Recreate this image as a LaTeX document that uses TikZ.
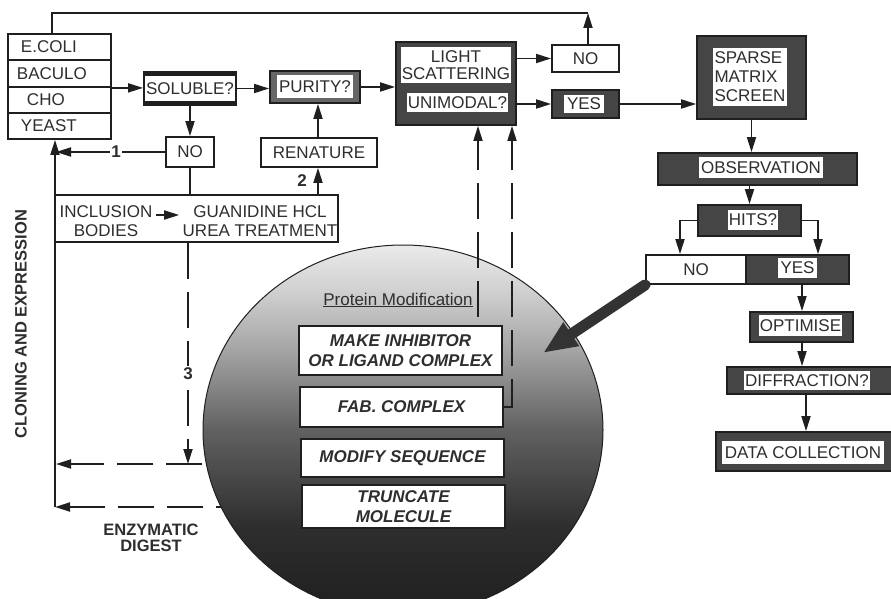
\documentclass[tikz,border=0pt]{standalone}
\usepackage{fontspec}
\setmainfont{Liberation Sans}
\usetikzlibrary{arrows.meta,shapes.geometric}
\definecolor{lc}{gray}{0.12}
\definecolor{tc}{gray}{0.18}
\definecolor{dk}{gray}{0.27}
\definecolor{md}{gray}{0.40}
\newcommand\tf{\fontsize{17}{19}\selectfont}
\newcommand\bx[7]{\node[#6, minimum width={(#4)-(#2)}, minimum height={(#5)-(#3)}] (#1) at ({((#2)+(#4))/2},{((#3)+(#5))/2}) {#7};}
\pgfdeclareverticalshading{circsh}{100bp}{color(0bp)=(black!88); color(25bp)=(black!88); color(37bp)=(black!82); color(50bp)=(black!62); color(61bp)=(black!35); color(69bp)=(black!18); color(75bp)=(black!8); color(100bp)=(black!8)}
\pgfdeclarelayer{back}
\pgfdeclarelayer{mid}
\pgfsetlayers{back,mid,main}
\begin{document}
\begin{tikzpicture}[x=1pt,y=-1pt,
 ln/.style={draw=lc,line width=1.8pt},
 arr/.style={ln,-{Triangle[length=15pt,width=9pt]}},
 dsh/.style={arr,dash pattern=on 36pt off 13pt},
 wb/.style={draw=lc,line width=1.8pt,fill=white,inner sep=0pt,text=tc,font=\tf},
 db/.style={draw=lc,line width=1.8pt,fill=dk,inner sep=0pt},
 wi/.style={fill=white,inner ysep=0pt,inner xsep=1pt,text=tc,font=\tf},
 pm/.style={draw=lc,line width=1.3pt,fill=white,inner sep=0pt,text=tc,font=\fontsize{17}{20}\selectfont\bfseries\itshape,align=center},
 num/.style={text=tc,font=\tf\bfseries,fill=white,inner sep=1.5pt},
 lbl/.style={text=tc,font=\fontsize{16.5}{16}\selectfont\bfseries,align=center},
 stk/.style={wb,text width=103pt,align=left}
]
\useasboundingbox (0,0) rectangle (891,599);
\clip (0,0) rectangle (891,599);

% expression stack
\bx{ecoli}{8}{34}{111}{60}{stk}{\hspace*{13pt}E.COLI}
\bx{baculo}{8}{60}{111}{87}{stk}{\hspace*{9pt}BACULO}
\bx{cho}{8}{87}{111}{113}{stk}{\hspace*{19pt}CHO}
\bx{yeast}{8}{113}{111}{139}{stk}{\hspace*{13pt}YEAST}

% top row
\bx{sol}{144}{72}{236}{105}{db,fill=lc}{}
\bx{solt}{148}{76}{232}{101}{wi}{SOLUBLE?}
\bx{pur}{270}{71}{360}{103}{db,fill=md}{}
\bx{purt}{277}{75}{353}{98}{wi}{PURITY?}
\bx{ls}{396}{42}{516}{125}{db}{}
\bx{lst}{401}{47}{511}{83}{wi,align=center,font=\fontsize{17}{16.5}\selectfont}{LIGHT\\SCATTERING}
\bx{lsu}{407}{93}{508}{112}{wi}{UNIMODAL?}
\bx{notop}{552}{45}{619}{72}{wb}{NO}
\bx{yes}{552}{90}{619}{118}{db}{}
\bx{yest}{564}{95}{604}{113}{wi}{YES}

% right column
\bx{sms}{697}{36}{806}{119}{db}{}
\bx{smst}{713}{48}{787}{106}{wi,align=left}{SPARSE\\MATRIX\\SCREEN}
\bx{obs}{658}{153}{857}{185}{db}{}
\bx{obst}{699}{157}{823}{178}{wi}{OBSERVATION}
\bx{hits}{698}{205}{801}{236}{db}{}
\bx{hitst}{728}{210}{778}{230}{wi}{HITS?}
\bx{hno}{646}{255}{746}{284}{wb}{NO}
\bx{hyes}{746}{255}{849}{284}{db}{}
\bx{hyest}{778}{258}{817}{278}{wi}{YES}
\bx{opt}{750}{312}{853}{342}{db}{}
\bx{optt}{759}{315}{842}{336}{wi}{OPTIMISE}
\bx{dif}{727}{367}{895}{394}{db}{}
\bx{dift}{744}{371}{870}{390}{wi}{DIFFRACTION?}
\bx{dat}{716}{432}{895}{471}{db}{}
\bx{datt}{722}{441}{884}{464}{wi}{DATA COLLECTION}

% left part
\bx{nol}{166}{137}{214}{167}{wb}{NO}
\bx{ren}{261}{138}{377}{167}{wb}{RENATURE}
\bx{inc}{55}{195}{338}{242}{wb}{}
\node[text=tc,font=\tf,align=center] (inct) at (106,221) {INCLUSION\\BODIES};
\node[text=tc,font=\tf,align=center] (guat) at (260,221) {GUANIDINE HCL\\UREA TREATMENT};

% circle boxes
\bx{make}{299}{326}{502}{375}{pm}{MAKE INHIBITOR\\OR LIGAND COMPLEX}
\bx{fab}{300}{387}{503}{427}{pm}{FAB. COMPLEX}
\bx{mod}{301}{439}{504}{477}{pm}{MODIFY SEQUENCE}
\bx{trunc}{302}{485}{505}{528}{pm}{TRUNCATE\\MOLECULE}
\node[text=tc,font=\tf] (pmod) at (398,300) {\underline{Protein Modification}};

\coordinate (lx) at (56,0);
\coordinate (c3) at (188,464);
\coordinate (bl) at (55,507);

\begin{pgfonlayer}{mid}
\node[ellipse,draw=lc,line width=1pt,minimum width=400,minimum height=370,
  shading=circsh] (circ) at (403,430) {};
\end{pgfonlayer}
\begin{pgfonlayer}{back}
\draw[dsh] (mod.west |- c3) -- (c3 -| lx);
\draw[dsh] (trunc.west |- bl) -- (bl);
\end{pgfonlayer}

% connectors top
\coordinate (tl) at (52,13);
\coordinate (tr) at (588,13);
\draw[ln] (ecoli.north -| tl) -- (tl) -- (tr);
\draw[arr] (notop.north -| tr) -- (tr);
\draw[arr] (baculo.south east) -- (sol.west |- baculo.south east);
\draw[arr] (sol.east) -- (pur.west |- sol.east);
\draw[arr] (pur.east) -- (ls.west |- pur.east);
\draw[arr] (ls.east |- notop.west) -- (notop.west);
\draw[arr] (ls.east |- yes.west) -- (yes.west);
\draw[arr] (yes.east) -- (sms.west |- yes.east);

% right column connectors
\draw[arr] (sms.south) -- (obs.north -| sms.south);
\draw[arr] (obs.south -| hits.north) -- (hits.north);
\coordinate (hl) at (680,0);
\coordinate (hr) at (818,0);
\draw[arr] (hits.west) -| (hno.north -| hl);
\draw[arr] (hits.east) -| (hyes.north -| hr);
\coordinate (vx) at (802,0);
\draw[arr] (hyes.south -| vx) -- (opt.north -| vx);
\draw[arr] (opt.south -| vx) -- (dif.north -| vx);
\coordinate (vx2) at (806,0);
\draw[arr] (dif.south -| vx2) -- (dat.north -| vx2);

% left connectors
\draw[arr] (sol.south -| nol.north) -- (nol.north);
\draw[arr] (nol.west) -- node[num,pos=.45] (n1) {1} (nol.west -| lx);
\draw[ln] (nol.south) -- (inc.north -| nol.south);
\coordinate (rx) at (318,0);
\draw[arr] (inc.north -| rx) -- (ren.south -| rx);
\node[num,fill=none] (n2) at (302,181) {2};
\draw[arr] (ren.north -| rx) -- (pur.south -| rx);
\draw[arr] ([yshift=6pt]inct.east) -- ([yshift=6pt]guat.west);
\draw[dsh] (inc.south -| c3) -- node[num,pos=.59] (n3) {3} (c3);
\draw[arr] (bl) -- (yeast.south -| bl);

% up dashed
\coordinate (u1) at (478,0);
\coordinate (u2) at (512,0);
\draw[dsh] ([yshift=8pt]make.north -| u1) -- (ls.south -| u1);
\draw[dsh] (fab.east) -| (ls.south -| u2);

% big arrow
\coordinate (bigtip) at (543,353);
\draw[draw=black!80,line width=11pt,line cap=round,-{Triangle[length=34pt,width=26pt]}] (hno.south west) -- (bigtip);

% labels
\node[lbl,rotate=90] (clon) at (21,324) {CLONING AND EXPRESSION};
\node[lbl] (enz) at (151,538) {ENZYMATIC\\DIGEST};
\end{tikzpicture}
\end{document}
